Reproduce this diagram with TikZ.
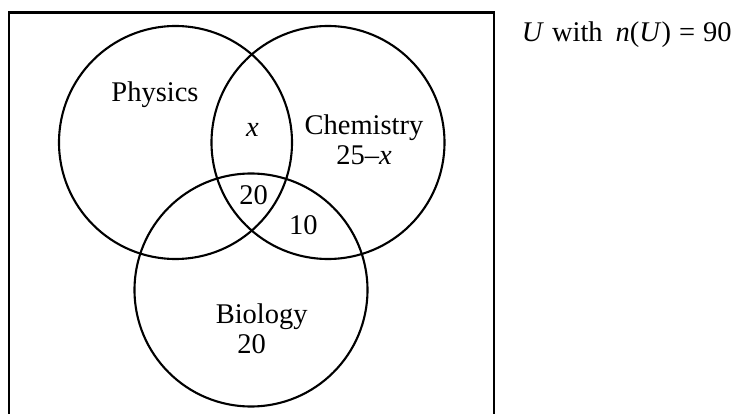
\documentclass[tikz,border=0pt]{standalone}
\usepackage{fontspec}
\setmainfont{Liberation Serif}
\begin{document}
\begin{tikzpicture}[x=1pt,y=-1pt,
  setc/.style={circle,draw,line width=2.1pt,minimum size=233pt,inner sep=0pt},
  lbl/.style={anchor=base,inner sep=0pt,font=\fontsize{28.5}{30}\selectfont}]
\useasboundingbox (0,0) rectangle (742,414);
\clip (0,0) rectangle (742,414);
\draw[line width=2.6pt] (9,12.7) rectangle (494,440);
\node[setc] (P) at (175.5,142.5) {};
\node[setc] (C) at (328,142.5) {};
\node[setc] (B) at (251,290) {};
\node[lbl] (tP) at (155,101.7) {Physics};
\node[lbl] (tx) at (252.5,136.7) {\textit{x}};
\node[lbl] (tC) at (364,135) {Chemistry};
\node[lbl] (tCv) at (364,165) {25–\textit{x}};
\node[lbl] (tPCB) at (253.7,205) {20};
\node[lbl] (tCB) at (303.3,235) {10};
\node[lbl] (tB) at (261.7,323.3) {Biology};
\node[lbl] (tBv) at (251.7,353.3) {20};
\node[lbl,anchor=base west] (tU) at (521.7,42) {\textit{U}\hspace{8pt}with\hspace{13pt}\textit{n}(\textit{U})\hspace{8pt}=\hspace{8pt}90};
\end{tikzpicture}
\end{document}
